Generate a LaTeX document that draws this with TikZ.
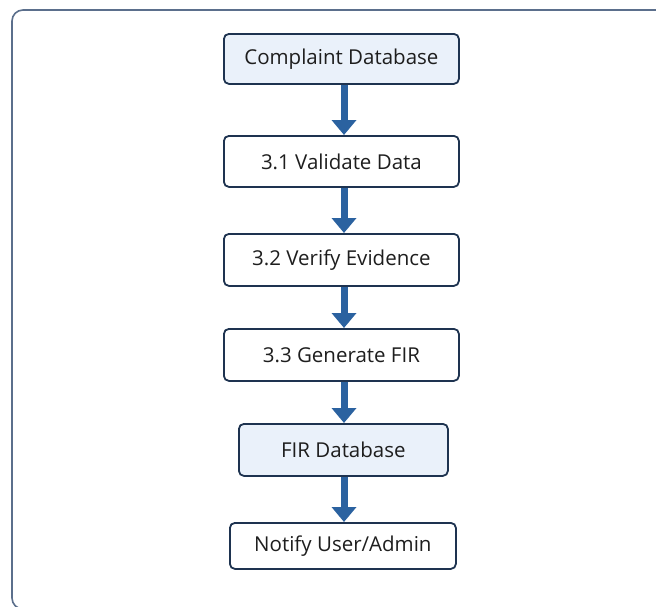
\documentclass[tikz,border=0pt]{standalone}
\usepackage{fontspec}
\setmainfont{Open Sans}
\usetikzlibrary{arrows.meta}
\definecolor{boxline}{HTML}{1E3350}
\definecolor{dbfill}{HTML}{EAF1FA}
\definecolor{flowblue}{HTML}{2B62A0}
\definecolor{framecol}{HTML}{5B6F8C}
\definecolor{txt}{HTML}{1E1E1E}
\tikzset{
  procbox/.style={draw=boxline, line width=1.8pt, rounded corners=5pt, fill=white,
    text=txt, font=\fontsize{20.5}{22}\selectfont, inner sep=0pt, anchor=north west},
  dbbox/.style={procbox, fill=dbfill},
  flow/.style={draw=flowblue, line width=7pt,
    -{Triangle[width=24pt,length=15pt]}},
}
\begin{document}
\begin{tikzpicture}[x=1pt,y=-1pt]
\useasboundingbox (0,0) rectangle (656,606);
\clip (0,0) rectangle (656,606);
\fill[white] (0,0) rectangle (656,606);
% outer panel
\draw[framecol, line width=1.6pt, rounded corners=11pt] (12,10) rectangle (700,609);
% process chain
\node[dbbox, minimum width=235pt, minimum height=50pt] (cdb) at (223,33) {Complaint Database};
\node[procbox, minimum width=235pt, minimum height=51pt] (val) at (223,135) {3.1 Validate Data};
\node[procbox, minimum width=235pt, minimum height=52pt] (ver) at (223,233) {3.2 Verify Evidence};
\node[procbox, minimum width=235pt, minimum height=52pt] (gen) at (223,328) {3.3 Generate FIR};
\node[dbbox, minimum width=209pt, minimum height=52pt] (fdb) at (238,423) {FIR Database};
\node[procbox, minimum width=226pt, minimum height=46pt] (ntf) at (229,522) {Notify User/Admin};
% vertical axis of the connectors
\coordinate (axis) at (344,0);
\draw[flow] (cdb.south -| axis) -- (val.north -| axis);
\draw[flow] (val.south -| axis) -- (ver.north -| axis);
\draw[flow] (ver.south -| axis) -- (gen.north -| axis);
\draw[flow] (gen.south -| axis) -- (fdb.north -| axis);
\draw[flow] (fdb.south -| axis) -- (ntf.north -| axis);
\end{tikzpicture}
\end{document}
